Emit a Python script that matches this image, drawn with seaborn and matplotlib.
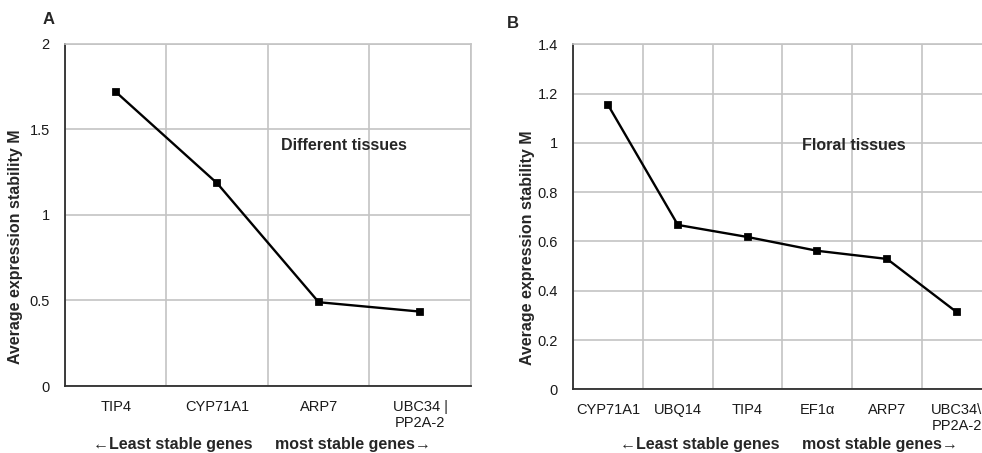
# Reference gene stability (geNorm M) - two panels

import matplotlib
matplotlib.use("Agg")
import matplotlib.pyplot as plt
from matplotlib.ticker import FixedLocator
import seaborn as sns
import pandas as pd
import numpy as np

# Panel A - different tissues
genes_a = ['TIP4', 'CYP71A1', 'ARP7', 'UBC34 |\nPP2A-2']
m_a = [1.72, 1.185, 0.49, 0.435]
yticks_a = [0, 0.5, 1, 1.5, 2]

# Panel B - floral tissues
genes_b = ['CYP71A1', 'UBQ14', 'TIP4', 'EF1α', 'ARP7', 'UBC34\\\nPP2A-2']
m_b = [1.153, 0.667, 0.618, 0.562, 0.529, 0.313]
yticks_b = [0, 0.2, 0.4, 0.6, 0.8, 1, 1.2, 1.4]

ylabel = 'Average expression stability M'
xlabel = '\u2190Least stable genes     most stable genes\u2192'

sns.set_style('white')
plt.rcParams['font.family'] = ['Liberation Sans', 'DejaVu Sans']

grid_col = '#c4c4c4'
axis_col = '#2e2e2e'

fig = plt.figure(figsize=(9.82, 4.53), dpi=100)
ax_a = fig.add_axes([0.0662, 0.1479, 0.4134, 0.755])
ax_b = fig.add_axes([0.5838, 0.1406, 0.426, 0.7616])


def draw_panel(ax, genes, values, yticks, note, note_xy, ylab_xy, xlab_xy):
    df = pd.DataFrame({'Gene': genes, 'M': values})
    sns.pointplot(data=df, x='Gene', y='M', order=genes, color='black',
                  markers='s', linestyles='-', markersize=5, linewidth=1.7,
                  errorbar=None, ax=ax)
    n = len(genes)
    ax.set_xlim(-0.5, n - 0.5)
    ax.set_ylim(yticks[0], yticks[-1])
    ax.set_yticks(yticks)
    ax.set_yticklabels([f'{v:g}' for v in yticks])

    # vertical grid lines sit between categories
    ax.xaxis.set_minor_locator(FixedLocator(np.arange(n + 1) - 0.5))
    ax.grid(False)
    ax.xaxis.grid(True, which='minor', color=grid_col, lw=1.2)
    ax.yaxis.grid(True, which='major', color=grid_col, lw=1.2)
    ax.set_axisbelow(True)

    ax.tick_params(axis='x', which='major', length=0, pad=10, labelsize=10.5, colors='#1a1a1a')
    ax.tick_params(axis='x', which='minor', length=3, width=1.2, color=axis_col, direction='in')
    ax.tick_params(axis='y', length=3, width=1.2, color=axis_col, direction='in',
                   pad=11, labelsize=10.5, labelcolor='#1a1a1a')

    for side in ['top', 'right']:
        ax.spines[side].set_color(grid_col)
        ax.spines[side].set_linewidth(1.2)
    for side in ['left', 'bottom']:
        ax.spines[side].set_color(axis_col)
        ax.spines[side].set_linewidth(1.3)

    ax.set_ylabel(ylabel, fontsize=11.5, fontweight='bold')
    ax.yaxis.label.set_va('center')
    ax.yaxis.set_label_coords(*ylab_xy)
    ax.set_xlabel(xlabel, fontsize=11.5, fontweight='bold')
    ax.xaxis.label.set_va('center')
    ax.xaxis.set_label_coords(*xlab_xy)

    ax.text(note_xy[0], note_xy[1], note, transform=ax.transAxes,
            ha='center', va='center', fontsize=11.5, fontweight='bold')


draw_panel(ax_a, genes_a, m_a, yticks_a, 'Different tissues',
           (0.686, 0.703), (-0.121, 0.408), (0.4845, -0.1725))
draw_panel(ax_b, genes_b, m_b, yticks_b, 'Floral tissues',
           (0.671, 0.706), (-0.109, 0.411), (0.5155, -0.161))

fig.text(49 / 982, 1 - 20 / 453, 'A', fontsize=12, fontweight='bold', ha='center', va='center')
fig.text(513 / 982, 1 - 23 / 453, 'B', fontsize=12, fontweight='bold', ha='center', va='center')

fig.savefig('out.png', dpi=100)
